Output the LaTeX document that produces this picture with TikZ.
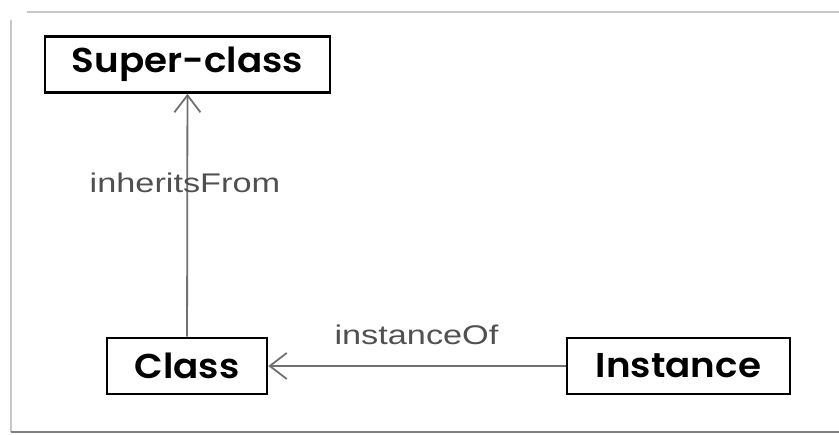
\documentclass[tikz,border=0pt]{standalone}
\usepackage{fontspec}
\usepackage{tikz}
\usetikzlibrary{arrows.meta}
\newfontfamily\boxfont[FakeStretch=1.08]{Poppins SemiBold}
\newfontfamily\lblfont[FakeStretch=1.27]{Liberation Sans}
\definecolor{linegray}{RGB}{112,112,112}
\definecolor{lblgray}{RGB}{80,80,80}
\definecolor{framegray}{RGB}{200,200,200}

\begin{document}
\begin{tikzpicture}[%
      x=1pt, y=-1pt,
      classbox/.style={draw=black, line width=2.6pt, inner sep=0pt,
        minimum height=56pt, font=\boxfont\fontsize{34.5}{34.5}\selectfont},
      relation/.style={color=linegray, line width=1.8pt,
        -{Straight Barb[length=17pt,width=26pt,line width=1.8pt]}},
      rellabel/.style={color=lblgray, anchor=base, inner sep=0pt,
        font=\lblfont\fontsize{27}{27}\selectfont},
      ]
      \useasboundingbox (0,0) rectangle (839,435);
      \draw [color=framegray, line width=2pt] (27,12) -- (839,12);
      \draw [color=framegray, line width=1.5pt] (11,20) -- (11,432);
      \draw [color=gray, line width=2.5pt] (11,432) -- (839,432);

      \node [classbox, minimum width=285pt] (super) at (187.5,64.5) {Super-class};
      \node [classbox, minimum width=160pt] (class) at (187,366) {Class};
      \node [classbox, minimum width=223pt] (inst) at (678.5,366) {Instance};

      \draw [relation] (class) -- (super);
      \draw [relation] (inst) -- (class);

      \node [rellabel] (inh) at (185,193) {inheritsFrom};
      \node [rellabel] (ins) at (416.5,345) {instanceOf};
      \end{tikzpicture}
\end{document}
